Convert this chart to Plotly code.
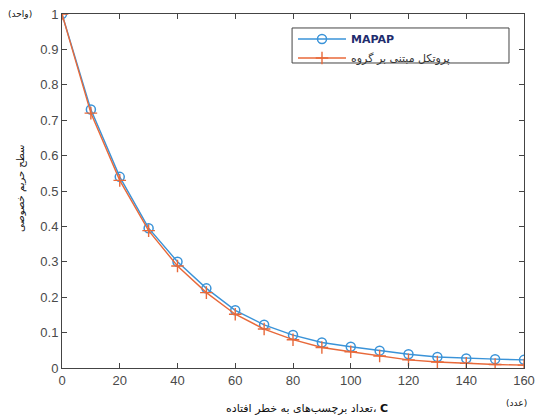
import plotly.graph_objects as go

x_vals = [0, 10, 20, 30, 40, 50, 60, 70, 80, 90, 100, 110, 120, 130, 140, 150, 160]
mapap = [1.0, 0.73, 0.54, 0.395, 0.30, 0.225, 0.163, 0.122, 0.093, 0.072, 0.060, 0.049, 0.039, 0.031, 0.027, 0.025, 0.023]
group = [1.0, 0.72, 0.53, 0.388, 0.288, 0.213, 0.152, 0.110, 0.080, 0.058, 0.046, 0.034, 0.023, 0.017, 0.013, 0.010, 0.008]
x_ticks = [0, 20, 40, 60, 80, 100, 120, 140, 160]
y_ticks = [0, 0.1, 0.2, 0.3, 0.4, 0.5, 0.6, 0.7, 0.8, 0.9, 1]
y_tick_labels = ["0", "0.1", "0.2", "0.3", "0.4", "0.5", "0.6", "0.7", "0.8", "0.9", "1"]
name_a = "<b><span style='color:#1f2d6e'>MAPAP</span></b>"
name_b = "پروتکل مبتنی بر گروه"
x_title = "تعداد برچسب‌های به خطر افتاده، <b>C</b>"
y_title = "سطح حریم خصوصی"
x_unit = "(عدد)"
y_unit = "(واحد)"

blue = "#3a93d8"
orange = "#e8693a"

fig = go.Figure()
fig.add_trace(go.Scatter(
    x=x_vals, y=mapap, mode="lines+markers", name=name_a,
    line=dict(color=blue, width=1.4),
    marker=dict(symbol="circle-open", size=9, color=blue, line=dict(width=1.5, color=blue)),
))
fig.add_trace(go.Scatter(
    x=x_vals, y=group, mode="lines+markers", name=name_b,
    line=dict(color=orange, width=1.4),
    marker=dict(symbol="cross-thin-open", size=9, color=orange, line=dict(width=1.4, color=orange)),
))

axis_common = dict(
    showgrid=False, zeroline=False, showline=True, linecolor="#444", linewidth=1,
    mirror="allticks", ticks="inside", ticklen=5, tickcolor="#444", automargin=False,
    ticklabeloverflow="allow",
    tickfont=dict(family="Liberation Sans, Arial", size=13, color="#4a4a4a"),
)
fig.update_xaxes(range=[0, 160], tickvals=x_ticks, **axis_common)
fig.update_yaxes(range=[0, 1], tickvals=y_ticks, ticktext=y_tick_labels, **axis_common)

fig.add_annotation(text=x_title, xref="paper", yref="paper", x=0.53, y=-0.113,
                   xanchor="center", yanchor="middle", showarrow=False,
                   font=dict(family="DejaVu Sans", size=11, color="#111"))
fig.add_annotation(text=x_unit, xref="paper", yref="paper", x=0.983, y=-0.1,
                   xanchor="center", yanchor="middle", showarrow=False,
                   font=dict(family="DejaVu Sans", size=9, color="#111"))
fig.add_annotation(text=y_title, xref="paper", yref="paper", x=-0.089, y=0.508,
                   xanchor="center", yanchor="middle", showarrow=False, textangle=-90,
                   font=dict(family="DejaVu Sans", size=10, color="#111"))
fig.add_annotation(text=y_unit, xref="paper", yref="paper", x=-0.06, y=1.0,
                   xanchor="right", yanchor="middle", showarrow=False,
                   font=dict(family="DejaVu Sans", size=9, color="#111"))

# legend frame (MATLAB-style wide box)
fig.add_shape(type="rect", xref="paper", yref="paper", x0=0.498, x1=0.9675, y0=0.8616, y1=0.9605,
              line=dict(color="#444", width=1), fillcolor="white", layer="below")

fig.update_layout(
    width=538, height=419,
    margin=dict(l=62, r=14, t=14, b=51, autoexpand=False),
    paper_bgcolor="white", plot_bgcolor="white",
    showlegend=True,
    legend=dict(x=0.5, y=0.9705, xanchor="left", yanchor="top",
                bgcolor="rgba(0,0,0,0)", borderwidth=0,
                font=dict(family="DejaVu Sans", size=11, color="#333"),
                itemwidth=48, tracegroupgap=0),
)

fig.write_html("out.html", config={"displayModeBar": False},
               post_script="document.body.style.margin='0';")
